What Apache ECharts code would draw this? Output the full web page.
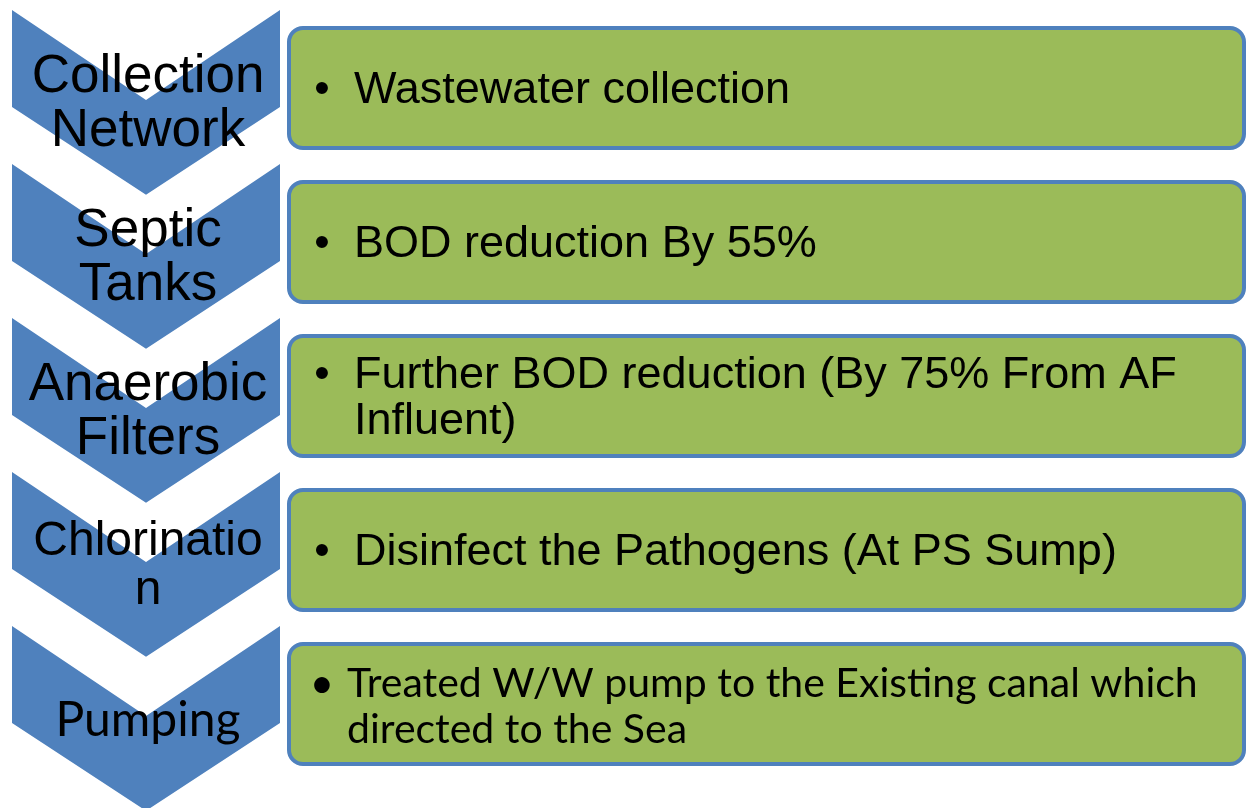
<!DOCTYPE html>
<html style="height: 100%">
<head>
<meta charset="utf-8">
</head>
<body style="height: 100%; margin: 0">
<div id="container" style="height: 100%"></div>
<script src="https://cdn.jsdelivr.net/npm/echarts@6/dist/echarts.min.js"></script>
<script type="text/javascript">
// process steps (left chevrons) and their notes (green boxes)
var stages = ['Collection\nNetwork', 'Septic\nTanks', 'Anaerobic\nFilters', 'Chlorinatio\nn', 'Pumping'];
var notes = [
    'Wastewater collection',
    'BOD reduction By 55%',
    'Further BOD reduction (By 75% From AF\nInfluent)',
    'Disinfect the Pathogens (At PS Sump)',
    'Treated W/W pump to the Existing canal which\ndirected to the Sea'
];

var dom = document.getElementById('container');
var myChart = echarts.init(dom);
var blue = '#4F81BD';
var green = '#9BBB59';
var arial = '"Liberation Sans", Arial, sans-serif';
var calibri = 'Lato, "Open Sans", sans-serif';

// shrink a label a little when it does not fit the chevron (like powerpoint autofit)
var measure = document.createElement('canvas').getContext('2d');
function fitSize(text, size, family, maxW) {
    measure.font = size + 'px ' + family;
    var w = Math.max.apply(null, text.split('\n').map(function (t) { return measure.measureText(t).width; }));
    return w > maxW ? Math.round(size * 0.9) : size;
}

function renderStep(params, api) {
    var i = api.value(1);
    var band = api.size([0, 1])[1];
    var top = api.coord([0, i])[1] - band / 2;
    var x = function (v) { return api.coord([v, i])[0]; };
    var left = x(12), right = x(280), cx = x(146);
    var h = band * 1.2, notch = band * 0.585, side = band * 0.63;
    var last = i === stages.length - 1;
    var family = last ? calibri : arial;
    var size = fitSize(stages[i], last ? 48 : 53, family, right - left - 20);

    var chevron = {
        type: 'polygon',
        shape: {points: [[left, top], [cx, top + notch], [right, top], [right, top + side], [cx, top + h], [left, top + side]]},
        style: {fill: blue},
        z2: 1
    };
    var boxTop = top + 18;
    var boxH = 120;
    var box = {
        type: 'rect',
        shape: {x: x(289), y: boxTop, width: x(1244) - x(289), height: boxH, r: 14},
        style: {fill: green, stroke: blue, lineWidth: 4},
        z2: 2
    };
    var label = {
        type: 'text',
        style: {
            text: stages[i], x: cx + 2, y: top + h / 2 + 2,
            align: 'center', verticalAlign: 'middle',
            font: size + 'px ' + family,
            lineHeight: Math.round(size * 1.02), fill: '#000'
        },
        z2: 5
    };
    var lines = notes[i].split('\n').length;
    var lh = 46;
    var midY = boxTop + boxH / 2 + 3;
    var firstY = midY - (lines - 1) * lh / 2;
    var bullet = {
        type: 'text',
        style: {
            text: '•', x: x(322), y: firstY, align: 'center', verticalAlign: 'middle',
            font: (last ? '42px ' + calibri : '44px ' + arial), fill: '#000'
        },
        z2: 5
    };
    var note = {
        type: 'text',
        style: {
            text: notes[i], x: x(last ? 347 : 354), y: midY, align: 'left', verticalAlign: 'middle',
            font: (last ? '41px ' + calibri : '45px ' + arial), lineHeight: lh, fill: '#000'
        },
        z2: 5
    };
    return {type: 'group', children: [chevron, box, label, bullet, note]};
}

var option = {
    animation: false,
    grid: {left: 0, right: 0, top: 10, bottom: 28},
    xAxis: {type: 'value', min: 0, max: 1247, show: false},
    yAxis: {type: 'category', data: stages, inverse: true, show: false},
    series: [{
        type: 'custom',
        renderItem: renderStep,
        clip: false,
        encode: {x: 0, y: 1},
        data: stages.map(function (s, i) { return [0, i]; })
    }]
};
myChart.setOption(option);
</script>
</body>
</html>
